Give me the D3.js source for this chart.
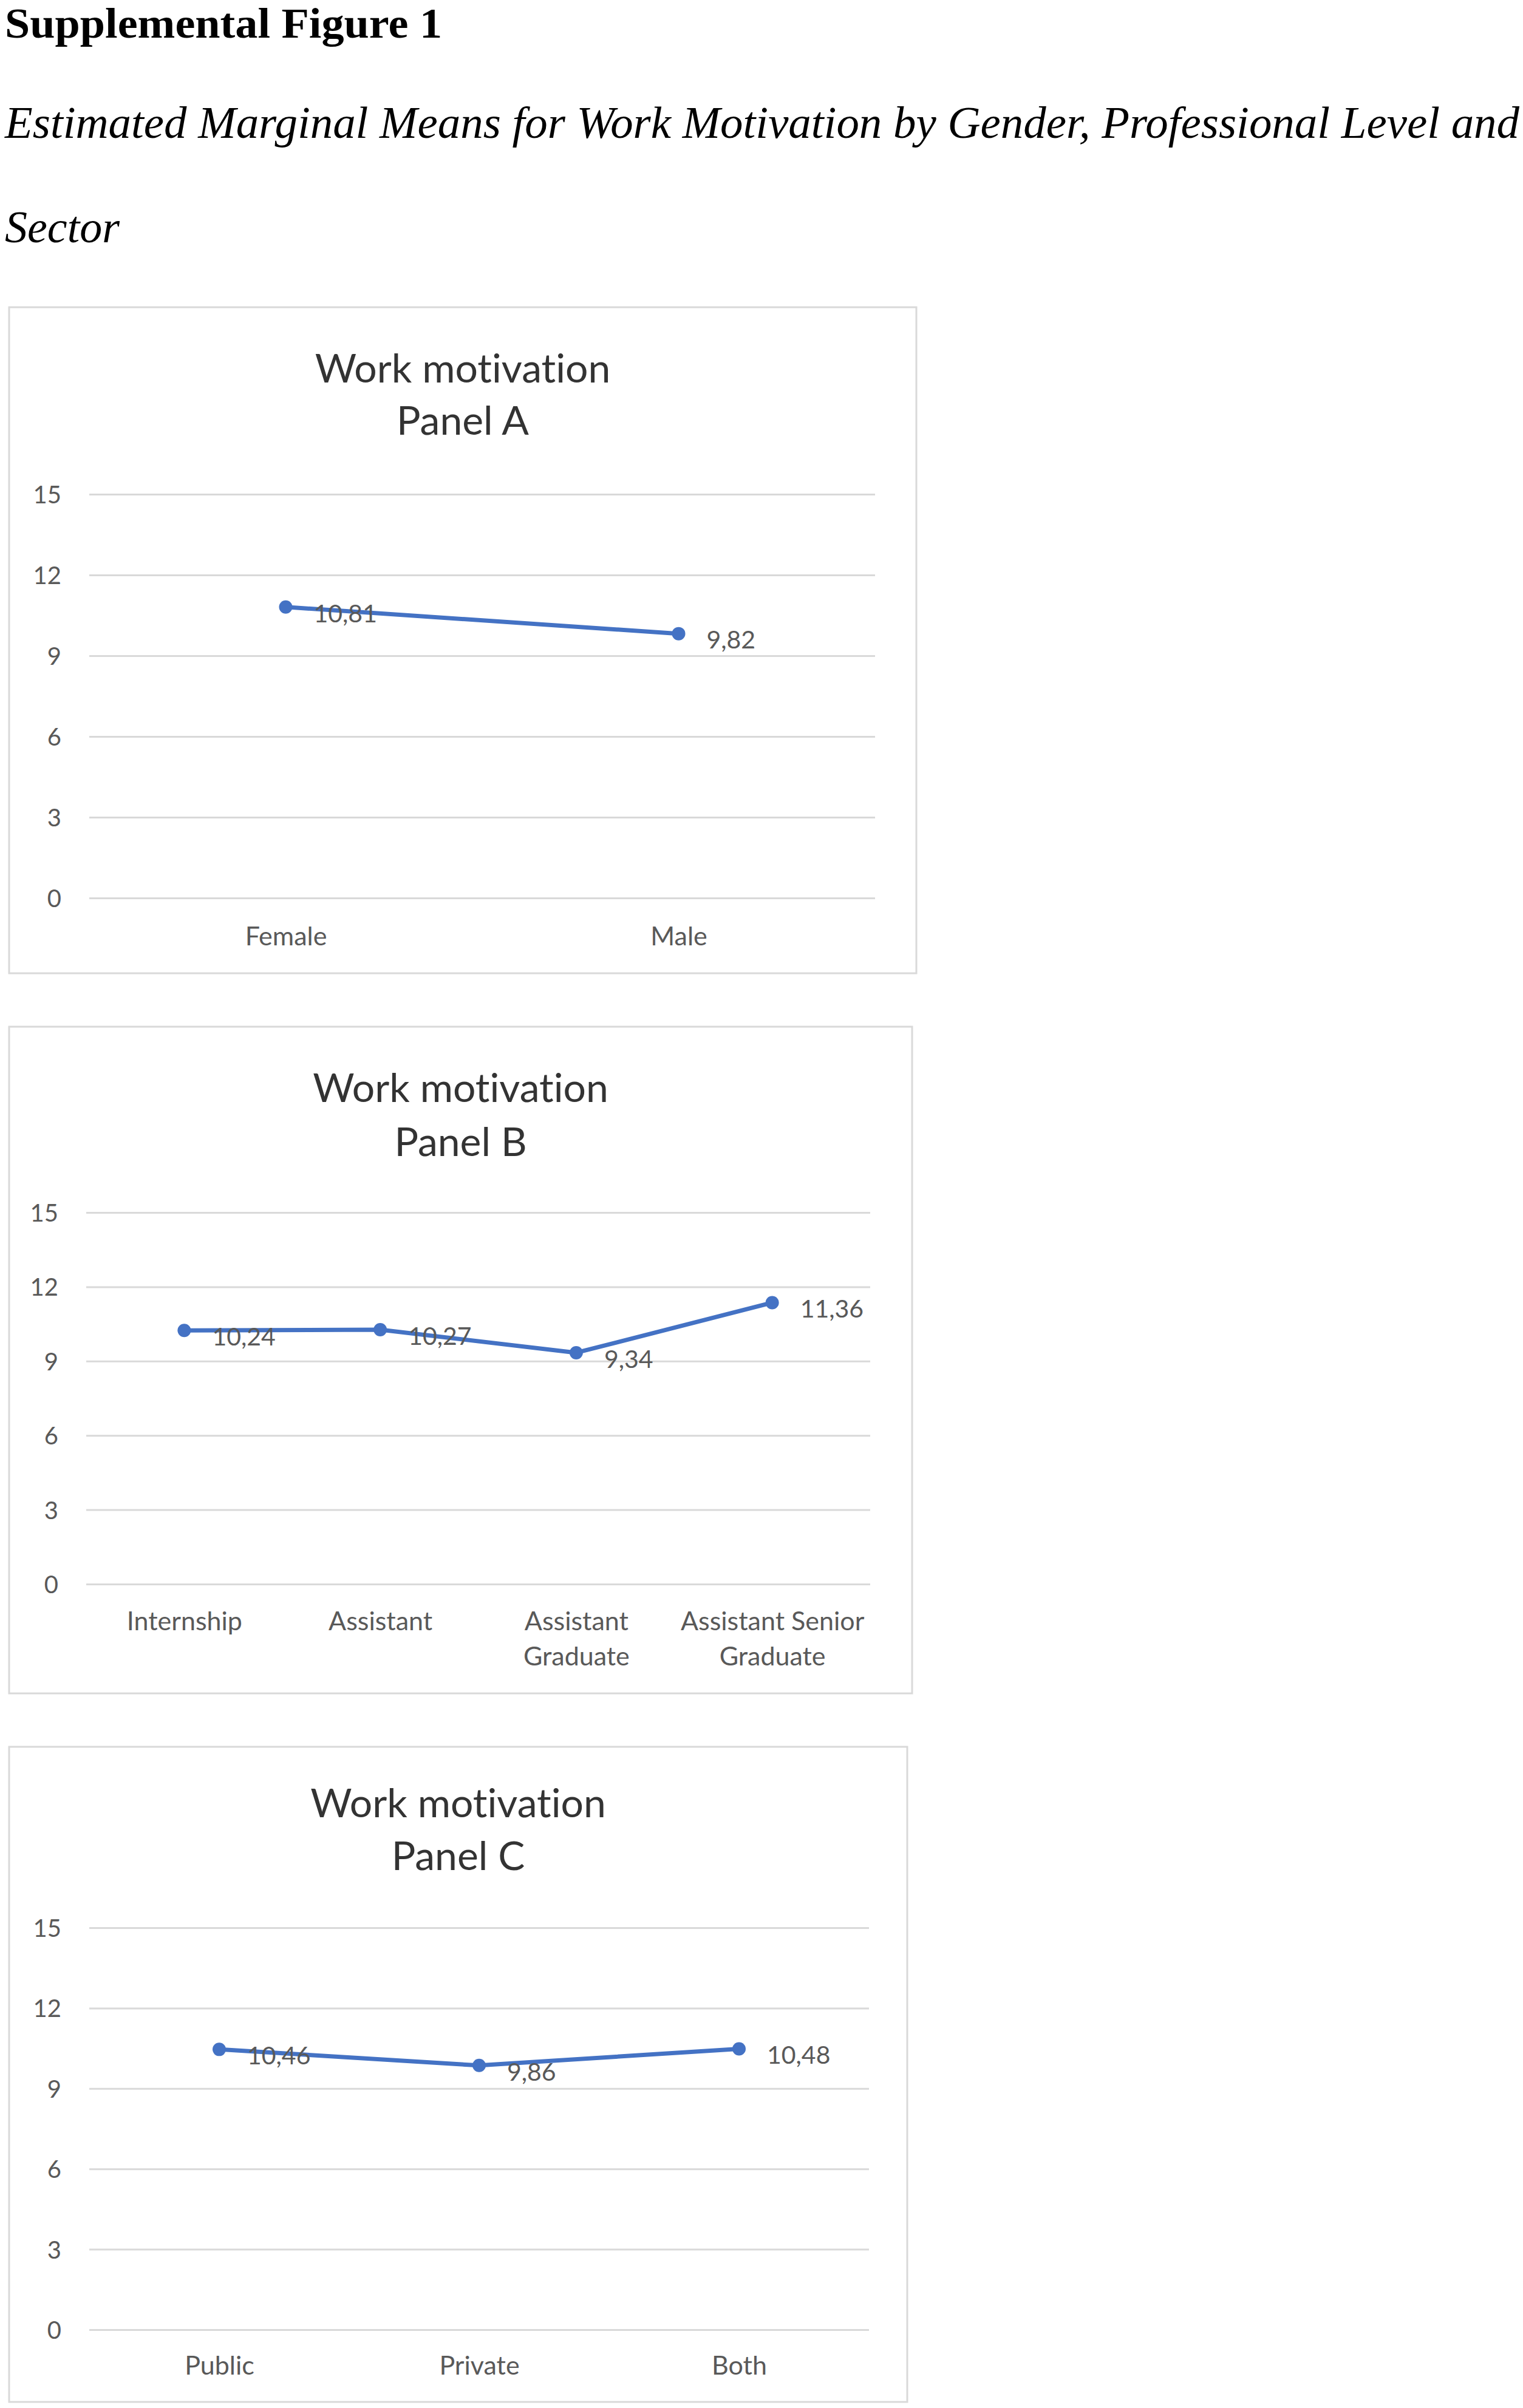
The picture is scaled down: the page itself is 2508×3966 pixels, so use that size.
<!DOCTYPE html>
<html>
<head>
<meta charset="utf-8">
<script src="https://cdn.jsdelivr.net/npm/d3@7"></script>
<style>
  html, body { margin: 0; padding: 0; background: #ffffff; }
  svg { display: block; }
  text { font-variant-ligatures: none; font-feature-settings: "liga" 0; }
</style>
</head>
<body>
<div id="chart"></div>
<script>
// ---------------- DATA ----------------
const figureTitle = "Supplemental Figure 1";
const figureCaption1 = "Estimated Marginal Means for Work Motivation by Gender, Professional Level and";
const figureCaption2 = "Sector";
const chartTitle = "Work motivation";
const panelNames = ["Panel A", "Panel B", "Panel C"];

const categoriesA = ["Female", "Male"];
const valuesA = [10.81, 9.82];

const categoriesB = ["Internship", "Assistant", "Assistant Graduate", "Assistant Senior Graduate"];
const labelLinesB = [["Internship"], ["Assistant"], ["Assistant", "Graduate"], ["Assistant Senior", "Graduate"]];
const valuesB = [10.24, 10.27, 9.34, 11.36];

const categoriesC = ["Public", "Private", "Both"];
const valuesC = [10.46, 9.86, 10.48];

const yTicks = [0, 3, 6, 9, 12, 15];
const yDomain = [0, 15];

// ---------------- LAYOUT ----------------
const W = 2508, H = 3966;
const svg = d3.select("#chart").append("svg")
  .attr("width", W).attr("height", H)
  .attr("viewBox", `0 0 ${W} ${H}`);

svg.append("rect").attr("width", W).attr("height", H).attr("fill", "#fff");

const serif = "'Liberation Serif', 'Times New Roman', serif";
const sans = "Lato, 'Open Sans', 'Noto Sans', sans-serif";

svg.append("text").attr("x", 8).attr("y", 62)
  .attr("font-family", serif).attr("font-weight", "bold")
  .attr("font-size", 69).attr("fill", "#000")
  .attr("textLength", 720).attr("lengthAdjust", "spacingAndGlyphs")
  .text(figureTitle);

svg.append("text").attr("x", 8).attr("y", 227)
  .attr("font-family", serif).attr("font-style", "italic")
  .attr("font-size", 73).attr("fill", "#000")
  .attr("textLength", 2494).attr("lengthAdjust", "spacingAndGlyphs")
  .text(figureCaption1);

svg.append("text").attr("x", 8).attr("y", 399)
  .attr("font-family", serif).attr("font-style", "italic")
  .attr("font-size", 73).attr("fill", "#000")
  .attr("textLength", 189).attr("lengthAdjust", "spacingAndGlyphs")
  .text(figureCaption2);

const locale = d3.formatLocale({decimal: ",", thousands: ".", grouping: [3], currency: ["", ""]});
const fmt = locale.format(".2f");

const panels = [
  { name: panelNames[0], cats: categoriesA, vals: valuesA, lines: categoriesA.map(c => [c]),
    box: [15, 506, 1509, 1603], plot: [147, 1441, 814, 1479], t1: 630, t2: 716, xl: 1542 },
  { name: panelNames[1], cats: categoriesB, vals: valuesB, lines: labelLinesB,
    box: [15, 1691, 1502, 2789], plot: [142, 1433, 1997, 2609], t1: 1815, t2: 1904, xl: 2670 },
  { name: panelNames[2], cats: categoriesC, vals: valuesC, lines: categoriesC.map(c => [c]),
    box: [15, 2877, 1494, 3956], plot: [147, 1431, 3175, 3837], t1: 2993, t2: 3080, xl: 3896 }
];

const blue = "#4472C4";
const gridColor = "#d9d9d9";
const tickColor = "#595959";

panels.forEach(p => {
  const [bx0, by0, bx1, by1] = p.box;
  const [px0, px1, py0, py1] = p.plot;
  const g = svg.append("g");

  g.append("rect")
    .attr("x", bx0).attr("y", by0)
    .attr("width", bx1 - bx0).attr("height", by1 - by0)
    .attr("fill", "#fff").attr("stroke", gridColor).attr("stroke-width", 3);

  const cx = (bx0 + bx1) / 2;
  g.append("text").attr("x", cx).attr("y", p.t1)
    .attr("text-anchor", "middle").attr("font-family", sans)
    .attr("font-size", 66).attr("fill", "#333").text(chartTitle);
  g.append("text").attr("x", cx).attr("y", p.t2)
    .attr("text-anchor", "middle").attr("font-family", sans)
    .attr("font-size", 66).attr("fill", "#333").text(p.name);

  const x = d3.scalePoint().domain(p.cats).range([px0, px1]).padding(0.5);
  const y = d3.scaleLinear().domain(yDomain).range([py1, py0]);

  // y axis with gridlines
  const ya = g.append("g").attr("transform", `translate(${px0},0)`)
    .call(d3.axisLeft(y).tickValues(yTicks).tickSize(-(px1 - px0)).tickPadding(46).tickFormat(d3.format("d")));
  ya.select(".domain").remove();
  ya.selectAll(".tick line").attr("stroke", gridColor).attr("stroke-width", 3);
  ya.selectAll(".tick text").attr("font-family", sans).attr("font-size", 40)
    .attr("fill", tickColor).attr("dy", "0.36em");

  // x axis labels
  const lineMap = new Map(p.cats.map((c, i) => [c, p.lines[i]]));
  const xa = g.append("g").attr("transform", `translate(0,${p.xl})`)
    .call(d3.axisBottom(x).tickSize(0).tickPadding(0));
  xa.select(".domain").remove();
  xa.selectAll(".tick text")
    .attr("font-family", sans).attr("font-size", 43).attr("fill", tickColor)
    .attr("y", 0).attr("dy", null)
    .each(function(d) {
      const el = d3.select(this);
      el.text(null);
      lineMap.get(d).forEach((ln, i) => {
        el.append("tspan").attr("x", 0).attr("y", i * 58).attr("dy", "0.36em").text(ln);
      });
    });

  const data = p.cats.map((c, i) => ({c, v: p.vals[i]}));

  g.append("path").datum(data)
    .attr("fill", "none").attr("stroke", blue).attr("stroke-width", 7)
    .attr("stroke-linejoin", "round")
    .attr("d", d3.line().x(d => x(d.c)).y(d => y(d.v)));

  g.selectAll(".pt").data(data).enter().append("circle")
    .attr("cx", d => x(d.c)).attr("cy", d => y(d.v)).attr("r", 11)
    .attr("fill", blue);

  g.selectAll(".lbl").data(data).enter().append("text")
    .attr("x", d => x(d.c) + 46).attr("y", d => y(d.v) + 10)
    .attr("dy", "0.36em")
    .attr("font-family", sans).attr("font-size", 41).attr("fill", tickColor)
    .text(d => fmt(d.v));
});
</script>
</body>
</html>
